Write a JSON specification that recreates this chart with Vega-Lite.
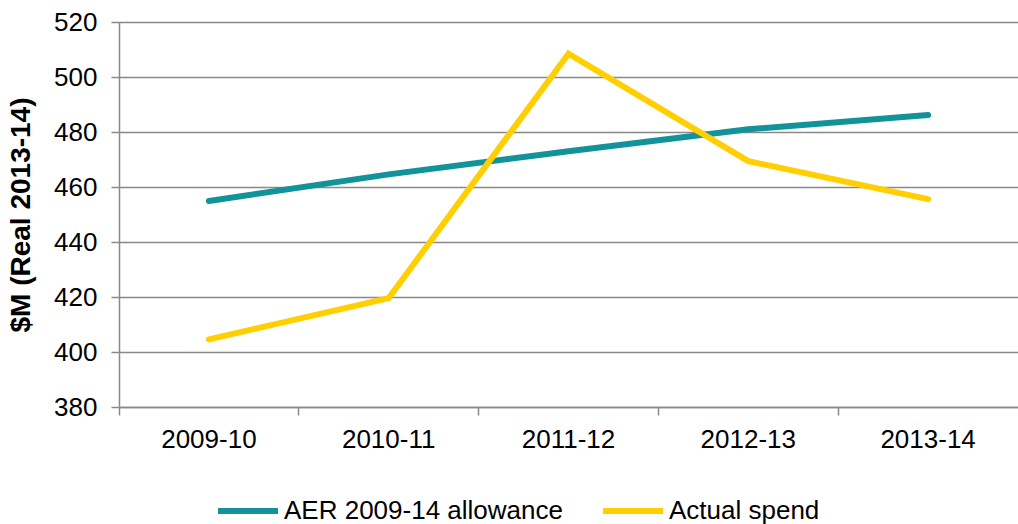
{
  "$schema": "https://vega.github.io/schema/vega-lite/v6.json",
  "autosize": "none",
  "width": 899,
  "height": 385,
  "padding": {"left": 119, "top": 22, "right": 0, "bottom": 117},
  "background": "white",
  "config": {
    "view": {"stroke": null},
    "font": "Liberation Sans"
  },
  "data": {
    "values": [
      {"period": "2009-10", "series": "AER 2009-14 allowance", "value": 454.9},
      {"period": "2010-11", "series": "AER 2009-14 allowance", "value": 464.6},
      {"period": "2011-12", "series": "AER 2009-14 allowance", "value": 473.0},
      {"period": "2012-13", "series": "AER 2009-14 allowance", "value": 481.0},
      {"period": "2013-14", "series": "AER 2009-14 allowance", "value": 486.2},
      {"period": "2009-10", "series": "Actual spend", "value": 404.6},
      {"period": "2010-11", "series": "Actual spend", "value": 419.6},
      {"period": "2011-12", "series": "Actual spend", "value": 508.5},
      {"period": "2012-13", "series": "Actual spend", "value": 469.4},
      {"period": "2013-14", "series": "Actual spend", "value": 455.6}
    ]
  },
  "mark": {"type": "line", "strokeWidth": 6, "strokeCap": "round", "strokeJoin": "miter"},
  "encoding": {
    "x": {
      "field": "period",
      "type": "ordinal",
      "bandPosition": 0.5,
      "scale": {"type": "band", "paddingInner": 0, "paddingOuter": 0},
      "axis": {
        "title": null,
        "labelAngle": 0,
        "labelPadding": 11,
        "labelFont": "Liberation Sans",
        "labelFontSize": 26,
        "labelColor": "#000000",
        "grid": false,
        "ticks": true,
        "bandPosition": 0,
        "tickSize": 8,
        "tickColor": "#898989",
        "tickWidth": 1.5,
        "domainColor": "#898989",
        "domainWidth": 1.5
      }
    },
    "y": {
      "field": "value",
      "type": "quantitative",
      "scale": {"domain": [380, 520], "nice": false, "zero": false},
      "axis": {
        "title": "$M (Real 2013-14)",
        "titleFont": "Liberation Sans",
        "titleColor": "#000000",
        "titleFontSize": 28,
        "titleFontWeight": "bold",
        "titlePadding": 18,
        "values": [380, 400, 420, 440, 460, 480, 500, 520],
        "labelFont": "Liberation Sans",
        "labelFontSize": 26,
        "labelColor": "#000000",
        "labelPadding": 14,
        "tickSize": 8,
        "tickColor": "#898989",
        "tickWidth": 1.5,
        "domainColor": "#898989",
        "domainWidth": 1.5,
        "grid": true,
        "gridColor": "#898989",
        "gridWidth": 1.5
      }
    },
    "color": {
      "field": "series",
      "type": "nominal",
      "scale": {
        "domain": ["AER 2009-14 allowance", "Actual spend"],
        "range": ["#12939A", "#FFCF00"]
      },
      "legend": {
        "title": null,
        "orient": "none",
        "direction": "horizontal",
        "legendX": 96,
        "legendY": 456,
        "symbolType": "stroke",
        "symbolSize": 3600,
        "symbolStrokeWidth": 6,
        "labelOffset": 3,
        "labelLimit": 0,
        "columnPadding": 28,
        "labelFont": "Liberation Sans",
        "labelFontSize": 26,
        "labelColor": "#000000"
      }
    }
  }
}
